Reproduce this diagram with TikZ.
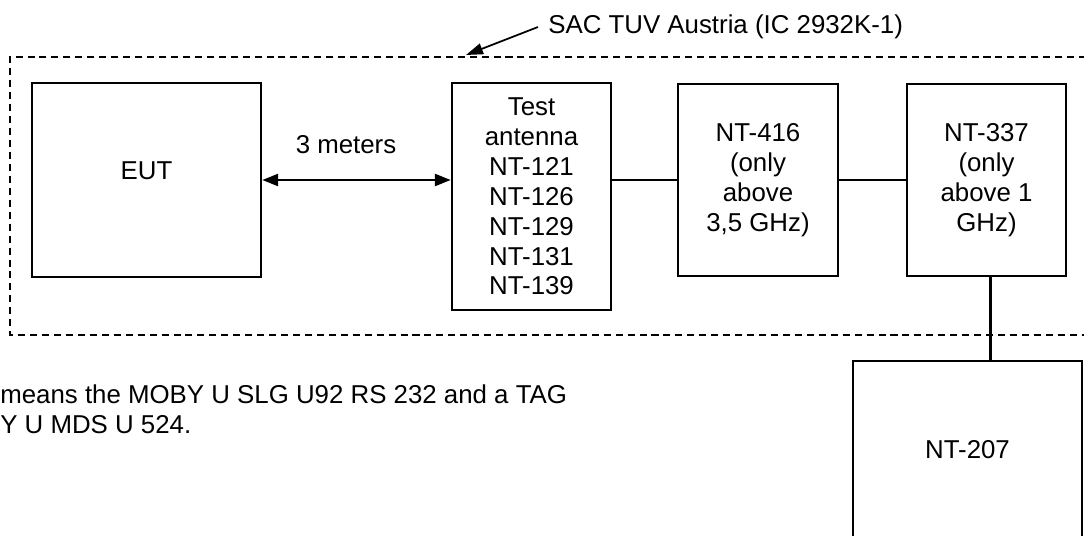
\documentclass[tikz,border=0pt]{standalone}
\usepackage{fontspec}
\setmainfont{Liberation Sans}
\usepackage{tikz}
\usetikzlibrary{calc, arrows.meta}

\begin{document}
\begin{tikzpicture}[scale=1.0, font=\fontsize{14.7}{17}\selectfont,
    unit/.style={draw, line width=1.4pt, inner sep=0pt, align=center},
    chamber/.style={line width=1.3pt, dash pattern=on 4pt off 2.8pt}]
  \useasboundingbox (0,0) rectangle (21.68,10.70);
  \clip (0,0) rectangle (21.68,10.70);
  % Chamber outline (runs off the right edge)
  \draw[chamber] (22.2,9.56) -- (0.20,9.56) -- (0.20,4.00) -- (22.2,4.00);
  % Boxes
  \node[unit, minimum width=4.58cm, minimum height=3.88cm] (eut) at (2.93,7.10) {\raisebox{0.36cm}{EUT}};
  \node[unit, minimum width=3.18cm, minimum height=4.54cm] (ant) at (10.63,6.77)
    {Test\\antenna\\NT-121\\NT-126\\NT-129\\NT-131\\NT-139};
  \node[unit, minimum width=3.20cm, minimum height=3.84cm] (nt416) at (15.16,7.10)
    {NT-416\\(only\\above\\3,5 GHz)};
  \node[unit, minimum width=3.18cm, minimum height=3.84cm] (nt337) at (19.73,7.10)
    {NT-337\\(only\\above 1\\GHz)};
  \node[unit, minimum width=4.58cm, minimum height=3.56cm] (nt207) at (19.35,1.70) {NT-207};
  % Distance EUT - antenna
  \draw[line width=1.4pt, {Triangle[length=0.32cm,width=0.24cm]}-{Triangle[length=0.32cm,width=0.24cm]}]
    (eut.east) -- (eut.east -| ant.west);
  \node (dist) at (6.92,7.80) {3 meters};
  % Cables
  \draw[line width=1.4pt] (nt416.west -| ant.east) -- (nt416.west);
  \draw[line width=1.4pt] (nt416.east) -- (nt337.west);
  \draw[line width=1.4pt] ($(nt337.south)+(0.08,0)$) -- ($(nt337.south |- nt207.north)+(0.08,0)$);
  % Chamber label
  \node[anchor=west, inner sep=0.2cm] (saclbl) at (10.76,10.16) {SAC TUV Austria (IC 2932K-1)};
  \coordinate (sactip) at (9.32,9.60);
  \draw[line width=1pt, -{Triangle[length=0.34cm,width=0.22cm]}] (saclbl.west) -- (sactip);
  % Note below the chamber
  \node[anchor=base west, inner sep=0pt] (note1) at (0,2.64) {means the MOBY U SLG U92 RS 232 and a TAG};
  \node[anchor=base west, inner sep=0pt] (note2) at (0,2.04) {Y U MDS U 524.};
\end{tikzpicture}
\end{document}
